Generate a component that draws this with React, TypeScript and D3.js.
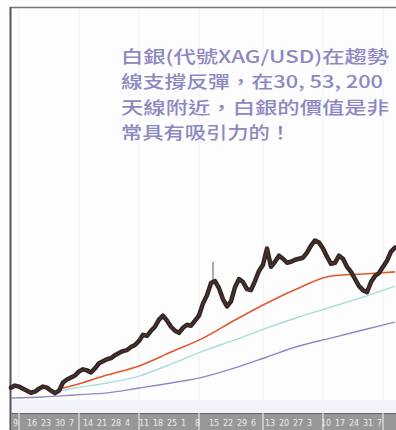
import React from "react";
import * as d3 from "d3";

// ---- data ----
const closes = [
  16.25, 16.35, 16.3, 16.2, 16.1, 16.0, 16.05, 16.2, 16.3, 16.25,
  16.1, 15.98, 16.1, 16.5, 16.65, 16.75, 16.85, 17.05, 17.15, 17.1,
  17.0, 17.2, 17.45, 17.55, 17.65, 17.7, 17.85, 17.95, 18.05, 18.1,
  18.25, 18.35, 18.55, 18.85, 18.8, 19.05, 19.25, 19.6, 19.8, 19.55,
  19.25, 19.05, 18.95, 19.2, 19.35, 19.3, 19.55, 19.8, 20.4, 20.8,
  21.4, 21.5, 21.15, 20.6, 20.25, 20.5, 21.2, 21.6, 21.45, 21.1,
  21.05, 21.5, 22.0, 22.3, 23.1, 22.2, 22.45, 22.75, 22.6, 22.4,
  22.45, 22.55, 22.6, 22.65, 22.9, 23.25, 23.5, 23.4, 23.1, 22.7,
  22.35, 22.4, 22.75, 22.6, 22.2, 21.95, 21.6, 21.25, 21.05, 20.95,
  21.45, 21.75, 21.9, 22.2, 22.5, 22.95, 23.15,
];
const spikeIdx = [51];
const spikeHigh = [22.45];

const ma30Idx = [12, 16, 24, 32, 40, 48, 56, 64, 72, 80, 88, 96];
const ma30 = [16.18, 16.38, 16.87, 17.32, 18.0, 18.69, 19.58, 20.42, 21.16, 21.75, 21.85, 21.95];

const ma53Idx = [12, 16, 24, 32, 40, 48, 56, 64, 72, 80, 88, 96];
const ma53 = [16.08, 16.23, 16.48, 16.82, 17.41, 18.05, 18.6, 19.19, 19.73, 20.22, 20.71, 21.25];

const ma200Idx = [0, 8, 16, 24, 32, 40, 48, 56, 64, 72, 80, 88, 96];
const ma200 = [15.74, 15.79, 15.89, 15.99, 16.23, 16.48, 16.77, 17.22, 17.76, 18.3, 18.69, 19.09, 19.48];

const monthIdx = [2, 17, 32, 47, 63, 78, 93];
const dayTicks = d3.range(0, 94, 3.5);
const dayLabels = ["9", "16", "23", "30", "7", "14", "21", "28", "4", "11", "18", "25", "1", "8", "15", "22", "29", "6", "13", "20", "27", "3", "10", "17", "24", "31", "7"];

const noteLines = [
  "白銀(代號XAG/USD)在趨勢",
  "線支撐反彈，在30, 53, 200",
  "天線附近，白銀的價值是非",
  "常具有吸引力的！",
];
const noteWidths = [268, 262, 268, 170];

export default function App() {
  const W = 396, H = 430;
  const left = 11, right = 395, top = 7, bottom = 413;
  const x = d3.scaleLinear().domain([0, 96]).range([left, right]);
  const y = d3.scaleLinear().domain([15, 35]).range([bottom, top]);

  const priceLine = d3.line<number>().x((_, i) => x(i)).y((d) => y(d)).curve(d3.curveLinear);
  const maLine = (idx: number[], vals: number[]) =>
    d3.line<number>().x((_, i) => x(idx[i])).y((d) => y(d)).curve(d3.curveMonotoneX)(vals) || "";

  return (
    <svg width={W} height={H} style={{ position: "absolute", left: 0, top: 0, background: "#fff" }}>
      <rect x={0} y={0} width={W} height={H} fill="#fdfdfd" />
      {/* faint grid */}
      {monthIdx.map((m, i) => (
        <line key={i} x1={x(m)} x2={x(m)} y1={top} y2={bottom} stroke="#f0f0f3" strokeWidth={1} />
      ))}
      <rect x={left} y={400} width={right - left + 1} height={13} fill="#f1f3f8" />
      {/* frame */}
      <line x1={10} x2={W} y1={7.5} y2={7.5} stroke="#7a7a7a" strokeWidth={1.5} />
      <line x1={10.5} x2={10.5} y1={7} y2={H} stroke="#555" strokeWidth={2} />

      {/* note text */}
      {noteLines.map((t, i) => (
        <text
          key={i}
          x={121}
          y={63 + i * 25.4}
          fontFamily="'Noto Sans CJK TC', 'Noto Sans CJK SC', sans-serif"
          fontSize={17}
          fontWeight={500}
          fill="#8c88c2"
          textLength={noteWidths[i]}
          lengthAdjust="spacingAndGlyphs"
        >
          {t}
        </text>
      ))}

      {/* moving averages */}
      <path d={maLine(ma200Idx, ma200)} fill="none" stroke="#9288c6" strokeWidth={1.4} />
      <path d={maLine(ma53Idx, ma53)} fill="none" stroke="#aadcd8" strokeWidth={1.4} />
      <path d={maLine(ma30Idx, ma30)} fill="none" stroke="#e2582e" strokeWidth={1.6} />

      {/* price */}
      {spikeIdx.map((s, i) => (
        <line key={i} x1={x(s) - 2} x2={x(s) - 2} y1={y(spikeHigh[i])} y2={y(closes[s])} stroke="#777" strokeWidth={1.2} />
      ))}
      <path d={priceLine(closes) || ""} fill="none" stroke="#2e2727" strokeWidth={4.5} strokeLinejoin="round" strokeLinecap="round" />
      <path d={priceLine(closes) || ""} fill="none" stroke="#6a3028" strokeWidth={1} strokeLinejoin="round" />

      {/* bottom axis band */}
      <rect x={11} y={bottom} width={W - 11} height={H - bottom} fill="#979797" />
      <line x1={11} x2={W} y1={bottom + 0.5} y2={bottom + 0.5} stroke="#666" />
      {dayTicks.map((t, i) => (
        <text key={i} x={x(t) + 2} y={426} fontFamily="'DejaVu Sans', sans-serif" fontSize={8} fill="#ececec">
          {dayLabels[i]}
        </text>
      ))}
      {monthIdx.map((m, i) => (
        <line key={i} x1={x(m)} x2={x(m)} y1={bottom} y2={H} stroke="#f4f4f4" strokeWidth={1} />
      ))}
    </svg>
  );
}
